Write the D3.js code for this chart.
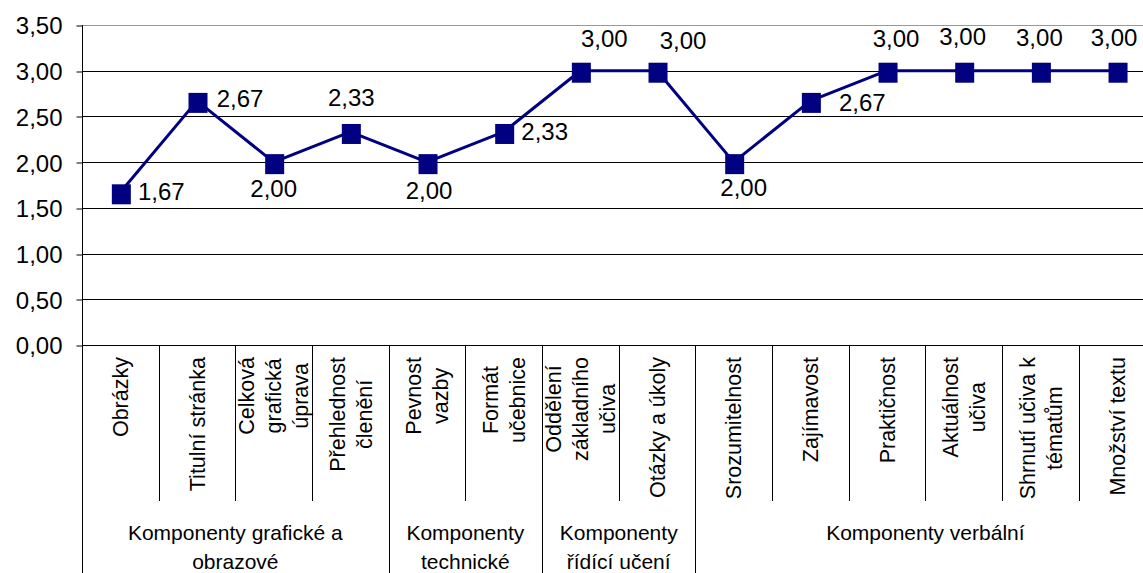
<!DOCTYPE html>
<html>
<head>
<meta charset="utf-8">
<script src="https://cdn.jsdelivr.net/npm/d3@7"></script>
<style>
  html, body { margin: 0; padding: 0; background: #fff; }
  svg { display: block; font-family: "Liberation Sans", Arial, sans-serif; }
</style>
</head>
<body>
<svg id="chart" width="1143" height="573"></svg>
<script>
// Category names (line breaks mark wrapped lines)
const categories = [
  "Obrázky",
  "Titulní stránka",
  "Celková\ngrafická\núprava",
  "Přehlednost\nčlenění",
  "Pevnost\nvazby",
  "Formát\nučebnice",
  "Oddělení\nzákladního\nučiva",
  "Otázky a úkoly",
  "Srozumitelnost",
  "Zajímavost",
  "Praktičnost",
  "Aktuálnost\nučiva",
  "Shrnutí učiva k\ntématům",
  "Množství textu"
];

// Average rating per component
const values = [1.67, 2.67, 2.00, 2.33, 2.00, 2.33, 3.00, 3.00, 2.00, 2.67, 3.00, 3.00, 3.00, 3.00];

// Component groups and how many categories each spans
const groupNames = [
  "Komponenty grafické a\nobrazové",
  "Komponenty\ntechnické",
  "Komponenty\nřídící učení",
  "Komponenty verbální"
];
const groupSizes = [4, 2, 2, 6];

// Value axis ticks
const yTicks = [0, 0.5, 1.0, 1.5, 2.0, 2.5, 3.0, 3.5];

// Data label offsets from each marker (label centre, px)
const labelOffsets = [
  [41, -1], [43, -2], [0, 26], [1, -35], [2, 28], [41, -1], [24, -32],
  [26, -30], [10, 25], [52, 2], [9, -32], [-1, -34], [-1, -33], [-3, -33]
];

(function draw() {
  const svg = d3.select("#chart");
  const H = 573;
  const plotLeft = 82, plotTop = 25, plotBottom = 345;
  const band = 76.67;
  const plotRight = plotLeft + band * categories.length;

  const x = d3.scaleBand().domain(d3.range(categories.length)).range([plotLeft, plotRight]).padding(0);
  const y = d3.scaleLinear().domain([0, 3.5]).range([plotBottom, plotTop]);
  const fmt = v => d3.format(".2f")(v).replace(".", ",");
  const cx = i => x(i) + x.bandwidth() / 2;

  // Gridlines
  svg.append("g")
    .selectAll("line")
    .data(yTicks.filter(t => t > 0))
    .join("line")
    .attr("x1", plotLeft).attr("x2", plotRight)
    .attr("y1", d => Math.round(y(d)) + 0.5)
    .attr("y2", d => Math.round(y(d)) + 0.5)
    .attr("stroke", d => d === 3.5 ? "#999" : "#000")
    .attr("stroke-width", 1);

  // Value axis
  const yAxis = d3.axisLeft(y)
    .tickValues(yTicks)
    .tickSize(6)
    .tickSizeOuter(0)
    .tickPadding(14)
    .tickFormat(fmt);

  const gy = svg.append("g")
    .attr("transform", `translate(${plotLeft + 0.5},0)`)
    .call(yAxis);
  gy.select(".domain").remove();
  gy.selectAll(".tick line")
    .attr("stroke", "#000")
    .attr("transform", d => `translate(0,${Math.round(y(d)) + 0.5 - y(d)})`);
  gy.selectAll(".tick text")
    .attr("font-size", 24)
    .attr("fill", "#000")
    .attr("dy", "0.37em")
    .attr("font-family", "Liberation Sans, Arial, sans-serif");

  // Left border runs from plot top down through the category table
  svg.append("line")
    .attr("x1", plotLeft + 0.5).attr("x2", plotLeft + 0.5)
    .attr("y1", plotTop).attr("y2", H)
    .attr("stroke", "#000");

  // Category axis line
  svg.append("line")
    .attr("x1", plotLeft).attr("x2", plotRight)
    .attr("y1", plotBottom + 0.5).attr("y2", plotBottom + 0.5)
    .attr("stroke", "#000");

  // Separators between categories; group boundaries run to the bottom
  const groupBounds = new Set();
  let acc = 0;
  groupSizes.forEach(s => { acc += s; groupBounds.add(acc); });

  svg.append("g")
    .selectAll("line")
    .data(d3.range(1, categories.length + 1))
    .join("line")
    .attr("x1", i => Math.round(x(i - 1) + x.bandwidth()) + 0.5)
    .attr("x2", i => Math.round(x(i - 1) + x.bandwidth()) + 0.5)
    .attr("y1", plotBottom)
    .attr("y2", i => groupBounds.has(i) ? H : 501)
    .attr("stroke", "#000");

  // Rotated category labels, top-aligned under the axis
  const catFont = 21.5, catLine = 27, catTop = 357;
  categories.forEach((name, i) => {
    const lines = name.split("\n");
    const n = lines.length;
    const g = svg.append("g")
      .attr("transform", `translate(${cx(i)},${catTop}) rotate(-90)`);
    const texts = g.selectAll("text")
      .data(lines)
      .join("text")
      .attr("font-size", catFont)
      .attr("fill", "#000")
      .attr("text-anchor", "middle")
      .attr("y", (d, k) => (k - (n - 1) / 2) * catLine + catFont * 0.36)
      .text(d => d);
    let maxLen = 0;
    texts.each(function () { maxLen = Math.max(maxLen, this.getComputedTextLength()); });
    texts.attr("x", -maxLen / 2);
  });

  // Group labels
  let start = 0;
  groupNames.forEach((name, gi) => {
    const end = start + groupSizes[gi];
    const gx = (x(start) + x(end - 1) + x.bandwidth()) / 2;
    svg.append("g")
      .selectAll("text")
      .data(name.split("\n"))
      .join("text")
      .attr("x", gx)
      .attr("y", (d, k) => 540 + k * 29)
      .attr("text-anchor", "middle")
      .attr("font-size", 21)
      .attr("fill", "#000")
      .text(d => d);
    start = end;
  });

  // Series line
  const line = d3.line()
    .x((d, i) => cx(i))
    .y(d => y(d));

  svg.append("path")
    .datum(values)
    .attr("d", line)
    .attr("fill", "none")
    .attr("stroke", "#000080")
    .attr("stroke-width", 3)
    .attr("stroke-linejoin", "round");

  // Square markers
  const mw = 19, mh = 20;
  svg.append("g")
    .selectAll("rect")
    .data(values)
    .join("rect")
    .attr("x", (d, i) => cx(i) + 1 - mw / 2)
    .attr("y", d => y(d) + 2 - mh / 2)
    .attr("width", mw)
    .attr("height", mh)
    .attr("fill", "#000080");

  // Data labels
  svg.append("g")
    .selectAll("text")
    .data(values)
    .join("text")
    .attr("x", (d, i) => cx(i) + labelOffsets[i][0])
    .attr("y", (d, i) => y(d) + labelOffsets[i][1] + 8.6)
    .attr("text-anchor", "middle")
    .attr("font-size", 24)
    .attr("fill", "#000")
    .text(d => fmt(d));
})();
</script>
</body>
</html>
